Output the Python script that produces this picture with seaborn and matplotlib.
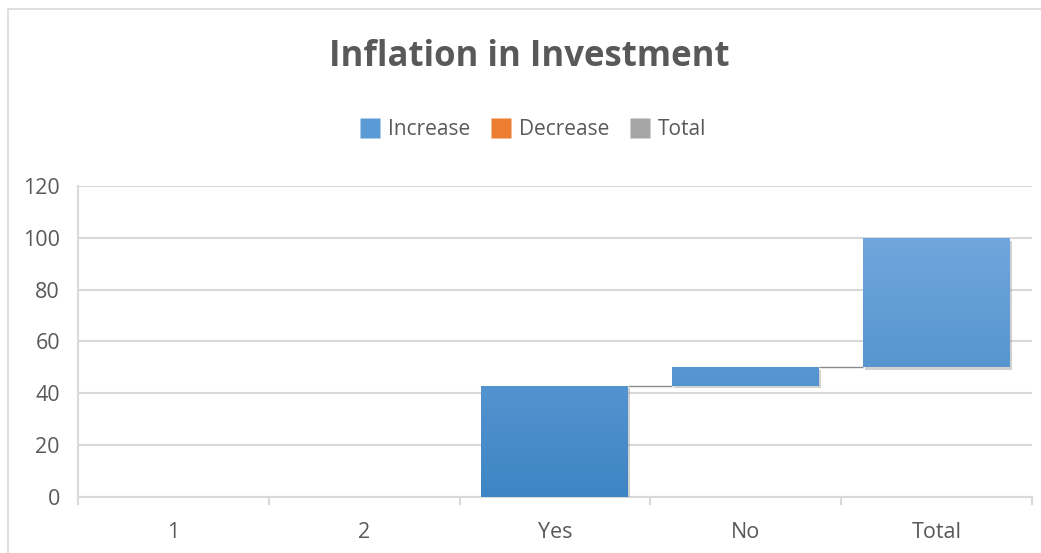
import numpy as np
import pandas as pd
import matplotlib
matplotlib.use("Agg")
import matplotlib.pyplot as plt
import matplotlib.patheffects as pe
from matplotlib.patches import Rectangle
from matplotlib.lines import Line2D
import seaborn as sns

# Waterfall data
categories = ["1", "2", "Yes", "No", "Total"]
changes = [0, 0, 43, 7, 50]
legend_labels = ["Increase", "Decrease", "Total"]
legend_colors = ["#5b9bd5", "#ed7d31", "#a5a5a5"]
y_ticks = [0, 20, 40, 60, 80, 100, 120]

ends = np.cumsum(changes)
starts = ends - np.array(changes)
df = pd.DataFrame({"category": categories, "change": changes, "start": starts, "end": ends})

sns.set_theme(style="white")
plt.rcParams["font.family"] = ["Open Sans", "DejaVu Sans"]
TEXT = "#595959"
GRID = "#d9d9d9"

fig = plt.figure(figsize=(10.41, 5.53), dpi=100)
ax = fig.add_axes([0.0749, 0.1013, 0.9163, 0.5624])

sns.barplot(data=df, x="category", y="change", order=categories,
            color=legend_colors[0], width=0.77, ax=ax, zorder=3)

# Float each bar on the running total and fill it with a soft vertical gradient
low = np.array([0x3e, 0x85, 0xc5]) / 255
high = np.array([0x70, 0xa6, 0xdc]) / 255
for patch, (_, row) in zip(ax.patches, df.iterrows()):
    patch.set_y(row["start"])
    patch.set_height(row["change"])
    patch.set_edgecolor("none")
    if row["change"] <= 0:
        patch.set_visible(False)
        continue
    patch.set_path_effects([pe.SimplePatchShadow(offset=(1.5, -2.0), shadow_rgbFace="#8c8c8c", alpha=0.4),
                            pe.Normal()])
    x0 = patch.get_x()
    x1 = x0 + patch.get_width()
    y0, y1 = row["start"], row["end"]
    t = np.linspace(y0 / 100, y1 / 100, 64)[:, None]
    grad = low[None, :] * (1 - t) + high[None, :] * t
    img = ax.imshow(grad[:, None, :].repeat(2, axis=1), extent=[x0, x1, y0, y1],
                    origin="lower", aspect="auto", zorder=3.5, interpolation="bilinear")
    img.set_clip_path(patch)

# Connector lines between consecutive bars (skipped while the running total is still zero)
for i in range(len(categories) - 1):
    if ends[i] == 0:
        continue
    p = ax.patches[i]
    q = ax.patches[i + 1]
    ax.plot([p.get_x() + p.get_width(), q.get_x()], [ends[i], ends[i]],
            color="#8c8c8c", lw=1.0, zorder=2.5, solid_capstyle="butt")

ax.set_xlim(-0.5, len(categories) - 0.5)
ax.set_ylim(0, 120)
ax.set_yticks(y_ticks)
ax.set_xlabel("")
ax.set_ylabel("")
ax.yaxis.grid(True, color=GRID, lw=1.5, zorder=0)
ax.set_axisbelow(True)

for side in ["top", "right"]:
    ax.spines[side].set_visible(False)
for side in ["left", "bottom"]:
    ax.spines[side].set_color(GRID)
    ax.spines[side].set_linewidth(1.5)
    ax.spines[side].set_zorder(1)

ax.set_xticks(np.arange(-0.5, len(categories)), minor=True)
ax.tick_params(axis="x", which="major", length=0, pad=18, labelsize=15.5, labelcolor=TEXT)
ax.tick_params(axis="x", which="minor", length=6, width=1.5, color=GRID, bottom=True)
ax.tick_params(axis="y", length=0, pad=13, labelsize=15.5, labelcolor=TEXT)

fig.text(0.508, 0.897, "Inflation in Investment", ha="center", va="center",
         fontsize=25, fontweight="bold", color=TEXT)

handles = [Line2D([], [], marker="s", linestyle="none", markersize=14,
                  markerfacecolor=c, markeredgecolor="none") for c in legend_colors]
fig.legend(handles, legend_labels, loc="center", bbox_to_anchor=(0.512, 0.766),
           ncol=3, frameon=False, fontsize=15, labelcolor=TEXT,
           handletextpad=0.35, columnspacing=1.0, handlelength=1.0)

# Light chart-area border
fig.patches.append(Rectangle((8 / 1041, -0.01), 1.2, 1 - 9 / 553 + 0.01, transform=fig.transFigure,
                             fill=False, edgecolor=GRID, lw=1.2))

fig.savefig("out.png", dpi=100, facecolor="white")
